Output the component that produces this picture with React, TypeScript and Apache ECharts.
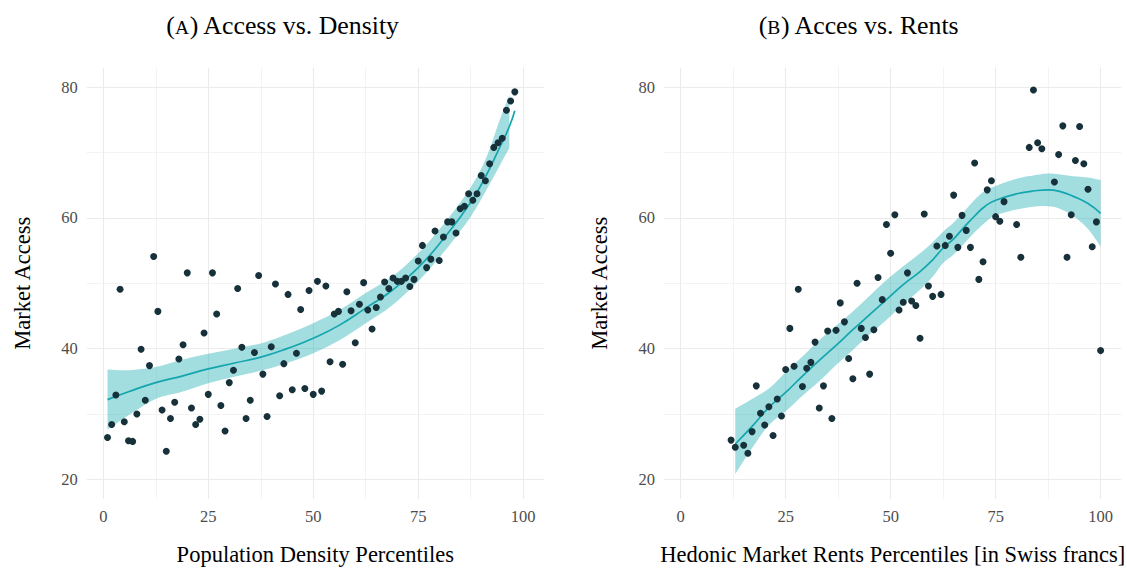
import React, { useEffect, useRef } from "react";
import * as echarts from "echarts";

// ---- Panel A: market access vs. population density percentile ----
const densityPct = [
  1, 2, 3, 4, 5, 6, 7, 8, 9, 10, 11, 12, 13, 14, 15, 16, 17, 18, 19, 20,
  21, 22, 23, 24, 25, 26, 27, 28, 29, 30, 31, 32, 33, 34, 35, 36, 37, 38, 39, 40,
  41, 42, 43, 44, 45, 46, 47, 48, 49, 50, 51, 52, 53, 54, 55, 56, 57, 58, 59, 60,
  61, 62, 63, 64, 65, 66, 67, 68, 69, 70, 71, 72, 73, 74, 75, 76, 77, 78, 79, 80,
  81, 82, 83, 84, 85, 86, 87, 88, 89, 90, 91, 92, 93, 94, 95, 96, 97, 98,
];
const densityAccess = [
  26.4, 28.4, 32.9, 49.1, 28.8, 25.9, 25.8, 30.0, 39.9, 32.1,
  37.4, 54.1, 45.7, 30.6, 24.3, 29.3, 31.8, 38.4, 40.6, 51.6,
  30.9, 28.4, 29.2, 42.4, 33.0, 51.6, 45.3, 31.3, 27.4, 34.8,
  36.7, 49.2, 40.2, 29.3, 32.1, 39.4, 51.2, 36.1, 29.6, 40.3,
  49.9, 32.8, 37.7, 48.3, 33.7, 39.3, 46.0, 33.9, 48.9, 33.0,
  50.3, 33.5, 49.6, 38.0, 45.3, 45.7, 37.6, 48.7, 45.8, 40.9,
  46.8, 50.1, 45.9, 43.0, 46.3, 47.9, 50.2, 49.2, 50.8, 50.3,
  50.3, 50.8, 49.5, 50.6, 53.4, 55.8, 52.4, 53.7, 58.0, 53.5,
  57.1, 59.4, 59.4, 57.7, 61.4, 61.8, 63.7, 62.7, 63.7, 66.5,
  65.7, 68.3, 70.8, 71.5, 72.2, 76.5, 77.9, 79.3,
];
// smoothed fit and its confidence band
const densityFitX = [1, 6, 12.5, 18.75, 25, 31.25, 37.5, 43.75, 50, 56.25, 62.5, 68.75, 75, 81.25, 87.5, 91.25, 94.4, 96.7, 98];
const densityFit = [32.2, 33.4, 34.8, 35.8, 36.9, 37.8, 38.7, 40.0, 41.6, 43.6, 46.2, 48.9, 52.4, 57.0, 62.4, 66.6, 70.8, 74.0, 76.4];
const densityBandX = [1, 6, 12.5, 18.75, 25, 31.25, 37.5, 43.75, 50, 56.25, 62.5, 68.75, 75, 81.25, 87.5, 91.25, 94.4, 96.7];
const densityLo = [27.6, 29.8, 32.3, 33.4, 34.7, 35.7, 36.6, 37.8, 39.3, 41.3, 43.9, 46.6, 50.3, 54.9, 60.2, 64.3, 68.0, 70.7];
const densityHi = [36.8, 36.7, 37.2, 38.3, 39.2, 40.0, 40.8, 42.2, 43.9, 45.9, 48.5, 51.0, 54.6, 59.2, 64.7, 69.3, 75.0, 78.8];

// ---- Panel B: market access vs. hedonic rent percentile ----
const rentPct = [
  12, 13, 15, 16, 17, 18, 19, 20, 21, 22, 23, 24, 25, 26, 27, 28, 29, 30, 31, 32,
  33, 34, 35, 36, 37, 38, 39, 40, 41, 42, 43, 44, 45, 46, 47, 48, 49, 50, 51, 52,
  53, 54, 55, 56, 57, 58, 59, 60, 61, 62, 63, 64, 65, 66, 67, 68, 69, 70, 71, 72,
  73, 74, 75, 76, 77, 80, 81, 83, 84, 85, 86, 89, 90, 91, 92, 93, 94, 95, 96, 97,
  98, 99, 100,
];
const rentAccess = [
  26.0, 24.9, 25.2, 24.0, 27.3, 34.3, 30.1, 28.3, 31.1, 26.7,
  32.3, 29.7, 36.8, 43.1, 37.3, 49.1, 34.2, 37.0, 37.9, 41.0,
  30.9, 34.3, 42.7, 29.3, 42.8, 47.0, 44.1, 38.5, 35.4, 50.0,
  43.1, 41.7, 36.1, 42.9, 50.9, 47.5, 59.0, 54.6, 60.5, 45.9,
  47.1, 51.6, 47.3, 46.6, 41.6, 60.6, 49.6, 48.0, 55.7, 48.3,
  55.8, 57.2, 63.5, 55.5, 60.4, 58.1, 55.5, 68.4, 50.6, 53.3,
  64.3, 65.7, 60.2, 59.5, 62.5, 59.0, 54.0, 70.8, 79.6, 71.5,
  70.6, 65.5, 69.7, 74.1, 54.0, 60.5, 68.8, 74.0, 68.3, 64.4,
  55.6, 59.4, 39.7,
];
const rentFitX = [13, 17, 21, 25, 29, 33, 37, 41, 45, 49, 53, 57, 60, 62.5, 65, 67.5, 70, 72.5, 75, 80, 85, 87.5, 90, 93.5, 97, 100];
const rentFit = [25.4, 28.1, 31.0, 33.3, 35.8, 38.2, 40.5, 42.9, 45.2, 47.5, 49.8, 51.8, 53.6, 55.4, 56.8, 58.6, 60.3, 61.8, 62.7, 63.7, 64.2, 64.3, 64.1, 63.3, 62.2, 60.7];
const rentBandX = [13, 17, 21, 25, 29, 33, 37, 41, 45, 49, 53, 57, 60, 62.5, 65, 67.5, 70, 72.5, 75, 80, 85, 87.5, 90, 93.5, 97, 100];
const rentLo = [20.8, 24.8, 28.3, 30.4, 32.8, 35.0, 37.5, 39.8, 42.2, 44.4, 46.8, 49.0, 51.0, 53.1, 54.4, 56.1, 57.8, 59.3, 60.4, 61.3, 61.8, 61.8, 61.5, 60.3, 58.3, 55.6];
const rentHi = [30.8, 32.3, 33.9, 36.4, 38.8, 41.3, 43.5, 45.7, 48.1, 50.5, 52.6, 54.6, 56.3, 57.9, 59.3, 61.0, 62.8, 64.2, 64.9, 66.0, 66.6, 66.8, 66.7, 66.4, 66.2, 65.8];

// ---- axes ----
const xTicks = [0, 25, 50, 75, 100];
const xMinorTicks = [12.5, 37.5, 62.5, 87.5];
const yTicks = [20, 40, 60, 80];
const yMinorTicks = [30, 50, 70];
const xTitles = ["Population Density Percentiles", "Hedonic Market Rents Percentiles [in Swiss francs]"];
const yTitle = "Market Access";
const panelTitles = [
  ["(", "A", ") Access vs. Density"],
  ["(", "B", ") Acces vs. Rents"],
];

const FONT = "'Liberation Serif', 'DejaVu Serif', serif";
const GRID_COLOR = "#ebebeb";
const SMOOTH_COLOR = "#14a6ae";
const BAND_COLOR = "#17a9b1";
const POINT_COLOR = "#17313a";

const zip = (xs: number[], ys: number[]) => xs.map((x, i) => [x, ys[i]]);

// Catmull-Rom spline through pixel points, as cubic Bezier path commands
function splineCommands(pts: number[][], moveFirst: boolean) {
  let d = moveFirst ? `M${pts[0][0]},${pts[0][1]}` : `L${pts[0][0]},${pts[0][1]}`;
  for (let i = 0; i < pts.length - 1; i++) {
    const p0 = pts[Math.max(0, i - 1)];
    const p1 = pts[i];
    const p2 = pts[i + 1];
    const p3 = pts[Math.min(pts.length - 1, i + 2)];
    const c1x = p1[0] + (p2[0] - p0[0]) / 6;
    const c1y = p1[1] + (p2[1] - p0[1]) / 6;
    const c2x = p2[0] - (p3[0] - p1[0]) / 6;
    const c2y = p2[1] - (p3[1] - p1[1]) / 6;
    d += `C${c1x},${c1y},${c2x},${c2y},${p2[0]},${p2[1]}`;
  }
  return d;
}

function gridLines() {
  const major = { width: 1.1, color: GRID_COLOR, type: "solid" };
  const minor = { width: 0.6, color: GRID_COLOR, type: "solid" };
  return [
    ...xTicks.map((v) => ({ xAxis: v, lineStyle: major })),
    ...xMinorTicks.map((v) => ({ xAxis: v, lineStyle: minor })),
    ...yTicks.map((v) => ({ yAxis: v, lineStyle: major })),
    ...yMinorTicks.map((v) => ({ yAxis: v, lineStyle: minor })),
  ];
}

function panelSeries(
  i: number,
  px: number[],
  py: number[],
  fitX: number[],
  fit: number[],
  bandX: number[],
  lo: number[],
  hi: number[]
) {
  const band = bandX.map((x, k) => [x, lo[k], hi[k]]);
  return [
    {
      // confidence ribbon, drawn as one closed spline path
      type: "custom",
      xAxisIndex: i,
      yAxisIndex: i,
      coordinateSystem: "cartesian2d",
      data: band,
      silent: true,
      z: 2,
      markLine: {
        silent: true,
        z: 1,
        symbol: ["none", "none"],
        label: { show: false },
        emphasis: { disabled: true },
        data: gridLines(),
      },
      renderItem: (params: any, api: any) => {
        if (params.dataIndex !== 0) return null;
        const upper = band.map((b) => api.coord([b[0], b[2]]));
        const lower = band.map((b) => api.coord([b[0], b[1]])).reverse();
        const d = splineCommands(upper, true) + splineCommands(lower, false) + "Z";
        return {
          type: "path",
          shape: { pathData: d },
          style: { fill: BAND_COLOR, opacity: 0.4, stroke: "none" },
        };
      },
    },
    {
      type: "line",
      xAxisIndex: i,
      yAxisIndex: i,
      data: zip(fitX, fit),
      symbol: "none",
      smooth: 0.5,
      lineStyle: { color: SMOOTH_COLOR, width: 1.7 },
      silent: true,
      z: 3,
    },
    {
      type: "scatter",
      xAxisIndex: i,
      yAxisIndex: i,
      data: zip(px, py),
      symbolSize: 7,
      itemStyle: { color: POINT_COLOR, opacity: 1 },
      silent: true,
      z: 4,
    },
  ];
}

export default function App() {
  const ref = useRef<HTMLDivElement>(null);

  useEffect(() => {
    if (!ref.current) return;
    const chart = echarts.init(ref.current, undefined, { renderer: "svg" });

    const gridLeft = [86.7, 664.1];
    const titleCenters = [283, 859];

    const option = {
      animation: false,
      backgroundColor: "#ffffff",
      textStyle: { fontFamily: FONT },
      grid: gridLeft.map((left) => ({
        left,
        top: 67.7,
        width: 457.3,
        height: 431.2,
        containLabel: false,
        outerBoundsMode: "none",
      })),
      xAxis: [0, 1].map((i) => ({
        type: "value",
        gridIndex: i,
        min: -3.95,
        max: 104.95,
        axisLine: { show: false },
        axisTick: { show: false },
        splitLine: { show: false },
        axisLabel: {
          customValues: xTicks,
          margin: 9,
          color: "#4d4d4d",
          fontSize: 16.5,
          fontFamily: FONT,
        },
        name: xTitles[i],
        nameLocation: "middle",
        nameGap: 44,
        nameTextStyle: { fontSize: 22.5, color: "#000000", fontFamily: FONT },
      })),
      yAxis: [0, 1].map((i) => ({
        type: "value",
        gridIndex: i,
        min: 17,
        max: 83,
        axisLine: { show: false },
        axisTick: { show: false },
        splitLine: { show: false },
        axisLabel: {
          customValues: yTicks,
          margin: 9,
          color: "#4d4d4d",
          fontSize: 16.5,
          fontFamily: FONT,
        },
        name: yTitle,
        nameLocation: "middle",
        nameGap: 53,
        nameTextStyle: { fontSize: 22.5, color: "#000000", fontFamily: FONT },
      })),
      graphic: panelTitles.map((t, i) => ({
        type: "text",
        x: titleCenters[i],
        y: 24,
        silent: true,
        style: {
          text: `{n|${t[0]}}{sc|${t[1]}}{n|${t[2]}}`,
          align: "center",
          verticalAlign: "middle",
          textAlign: "center",
          textVerticalAlign: "middle",
          fill: "#000000",
          rich: {
            n: { fontSize: 25.8, fontFamily: FONT, fill: "#000000", verticalAlign: "bottom", lineHeight: 28 },
            sc: { fontSize: 19.5, fontFamily: FONT, fill: "#000000", verticalAlign: "bottom", lineHeight: 28, padding: [0, 0, 1, 0] },
          },
        },
      })),
      series: [
        ...panelSeries(0, densityPct, densityAccess, densityFitX, densityFit, densityBandX, densityLo, densityHi),
        ...panelSeries(1, rentPct, rentAccess, rentFitX, rentFit, rentBandX, rentLo, rentHi),
      ],
    };

    chart.setOption(option as any);
    return () => chart.dispose();
  }, []);

  return (
    <div
      ref={ref}
      style={{ position: "fixed", left: 0, top: 0, width: 1127, height: 571, background: "#fff" }}
    />
  );
}
